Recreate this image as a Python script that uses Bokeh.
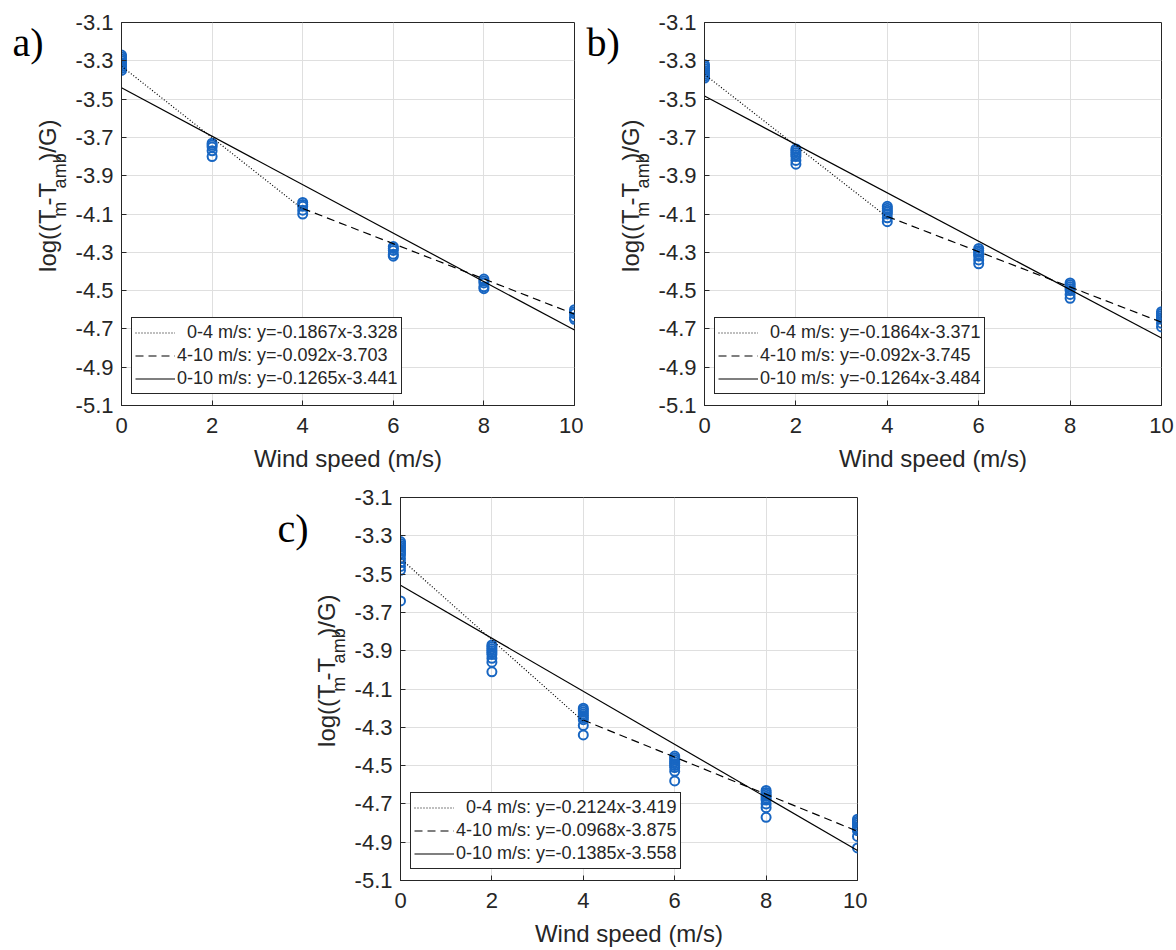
import math
from bokeh.plotting import figure
from bokeh.models import (Range1d, FixedTicker, PrintfTickFormatter,
                          Legend, LegendItem, Spacer, ColumnDataSource)
from bokeh.core.properties import value
from bokeh.layouts import column, row
from bokeh.embed import file_html
from bokeh.resources import INLINE

# ---------------- data ----------------
wind_speeds = [0, 2, 4, 6, 8, 10]

a_values = [
    [-3.27, -3.28, -3.29, -3.30, -3.31, -3.32, -3.33, -3.34, -3.35],
    [-3.73, -3.74, -3.75, -3.77, -3.80],
    [-4.04, -4.05, -4.06, -4.08, -4.10],
    [-4.27, -4.28, -4.29, -4.31, -4.32],
    [-4.44, -4.45, -4.46, -4.48, -4.49],
    [-4.60, -4.61, -4.62, -4.64, -4.65],
]
b_values = [
    [-3.32, -3.33, -3.34, -3.35, -3.36, -3.37, -3.38, -3.39],
    [-3.76, -3.77, -3.78, -3.79, -3.80, -3.82, -3.84],
    [-4.06, -4.07, -4.08, -4.09, -4.10, -4.12, -4.14],
    [-4.28, -4.29, -4.30, -4.31, -4.32, -4.34, -4.36],
    [-4.46, -4.47, -4.48, -4.49, -4.50, -4.52, -4.54],
    [-4.61, -4.62, -4.63, -4.64, -4.65, -4.67, -4.69],
]
c_values = [
    [-3.33, -3.34, -3.35, -3.36, -3.37, -3.38, -3.39, -3.40, -3.42, -3.44, -3.46, -3.48, -3.64],
    [-3.87, -3.88, -3.89, -3.90, -3.91, -3.92, -3.94, -3.96, -4.01],
    [-4.20, -4.21, -4.22, -4.23, -4.24, -4.25, -4.26, -4.29, -4.34],
    [-4.45, -4.46, -4.47, -4.48, -4.49, -4.50, -4.51, -4.53, -4.58],
    [-4.63, -4.64, -4.65, -4.66, -4.67, -4.68, -4.70, -4.72, -4.77],
    [-4.78, -4.79, -4.80, -4.81, -4.82, -4.83, -4.84, -4.87, -4.93],
]

fit_names = ["0-4 m/s", "4-10 m/s", "0-10 m/s"]
fit_ranges = [(0, 4), (4, 10), (0, 10)]
a_slopes, a_intercepts = [-0.1867, -0.092, -0.1265], [-3.328, -3.703, -3.441]
b_slopes, b_intercepts = [-0.1864, -0.092, -0.1264], [-3.371, -3.745, -3.484]
c_slopes, c_intercepts = [-0.2124, -0.0968, -0.1385], [-3.419, -3.875, -3.558]

y_ticks = [-5.1, -4.9, -4.7, -4.5, -4.3, -4.1, -3.9, -3.7, -3.5, -3.3, -3.1]
x_ticks = [0, 2, 4, 6, 8, 10]

# ---------------- style ----------------
BLUE = "#1866C2"
DARK = "#262626"
GRID = "#dfdfdf"
SANS = "Liberation Sans"
SERIF = "Liberation Serif"
ROW_H = 475
TOP = 22
FRAME_H = 383
BOTTOM = ROW_H - TOP - FRAME_H
PANEL_LEFT = 48
DASHES = ["1 2", "8 5", "solid"]

# Arial / Liberation Sans advance widths (em) for y label layout
ARIAL_W = {"l": .222, "o": .556, "g": .556, "(": .333, ")": .333, "T": .611,
           "m": .833, "-": .333, "a": .556, "b": .556, "/": .278, "G": .778}
MAIN_FS, SUB_FS = 24, 18
MID = 0.3465  # baseline -> middle of the font box, in em


def text_w(s, fs):
    return sum(ARIAL_W.get(ch, .556) for ch in s) * fs


def label_strip(width, base_x, letter, letter_cx, letter_cy):
    """Narrow axis-less figure left of a panel holding the panel letter and the
    y label.  Coordinates are pixels; y measured from the top of the row."""
    p = figure(title=None, width=width, height=ROW_H,
               x_range=Range1d(0, width), y_range=Range1d(ROW_H, 0),
               x_axis_type=None, y_axis_type=None,
               min_border=0, min_border_left=0, min_border_right=0,
               min_border_top=0, min_border_bottom=0,
               output_backend="svg", toolbar_location=None,
               background_fill_color="white", border_fill_color="white")
    p.outline_line_color = None

    pieces = [("log((T", False), ("m", True), ("-T", False), ("amb", True), (")/G)", False)]
    total = sum(text_w(s, SUB_FS if sub else MAIN_FS) for s, sub in pieces)
    centre = TOP + FRAME_H / 2
    pos = centre + total / 2          # bottom end of the label (pixels from top)
    for s, sub in pieces:
        fs = SUB_FS if sub else MAIN_FS
        w = text_w(s, fs)
        baseline = base_x + (11 if sub else 0)
        p.text(x=[baseline - MID * fs], y=[pos - w / 2], text=[s], angle=math.pi / 2,
               text_font=value(SANS), text_font_size=value(f"{fs}px"),
               text_color=DARK, text_align="center", text_baseline="middle")
        pos -= w

    p.text(x=[letter_cx], y=[letter_cy], text=[letter],
           text_font=value(SERIF), text_font_size=value("40px"), text_color="black",
           text_align="center", text_baseline="middle")
    return p


def make_panel(values, slopes, intercepts, frame_w, border_right):
    p = figure(frame_width=frame_w, frame_height=FRAME_H,
               min_border_left=PANEL_LEFT, min_border_right=border_right,
               min_border_top=TOP, min_border_bottom=BOTTOM,
               x_range=Range1d(0, 10), y_range=Range1d(-5.1, -3.1),
               output_backend="svg", toolbar_location=None,
               background_fill_color="white", border_fill_color="white")
    p.outline_line_color = DARK
    p.outline_line_width = 1
    p.outline_line_alpha = 1

    p.xaxis.ticker = FixedTicker(ticks=x_ticks)
    p.yaxis.ticker = FixedTicker(ticks=y_ticks)
    p.yaxis.formatter = PrintfTickFormatter(format="%.1f")
    for ax in (p.xaxis, p.yaxis):
        ax.axis_line_color = DARK
        ax.major_tick_line_color = DARK
        ax.major_tick_in = 5
        ax.major_tick_out = 0
        ax.minor_tick_line_color = None
        ax.major_label_text_font = SANS
        ax.major_label_text_font_size = "22px"
        ax.major_label_text_color = DARK
    p.yaxis.major_label_standoff = 8
    p.xaxis.major_label_standoff = 12
    p.xaxis.axis_label = "Wind speed (m/s)"
    p.xaxis.axis_label_text_font = SANS
    p.xaxis.axis_label_text_font_size = "24px"
    p.xaxis.axis_label_text_font_style = "normal"
    p.xaxis.axis_label_text_color = DARK
    p.xaxis.axis_label_standoff = 9

    p.grid.grid_line_color = GRID
    p.grid.grid_line_width = 1

    xs, ys = [], []
    for ws, vals in zip(wind_speeds, values):
        xs += [ws] * len(vals)
        ys += vals
    p.scatter(x="x", y="y", source=ColumnDataSource(dict(x=xs, y=ys)),
              marker="circle", size=9, fill_color=None,
              line_color=BLUE, line_width=2)

    items = []
    for k, (name, (x0, x1), s, b, dash) in enumerate(
            zip(fit_names, fit_ranges, slopes, intercepts, DASHES)):
        fx = [x0, x1]
        fy = [s * x0 + b, s * x1 + b]
        r = p.line(fx, fy, line_color="black", line_width=1.2, line_dash=dash)
        lbl = f"{name}: y={s}x{b}"
        if k == 0:
            lbl = "\u00a0\u00a0" + lbl
        items.append(LegendItem(label=lbl, renderers=[r]))

    leg = Legend(items=items, location=(10, 11), margin=0, padding=3, spacing=0,
                 glyph_width=40, glyph_height=23, label_height=23, label_standoff=2,
                 label_text_font=SANS, label_text_font_size="18px",
                 label_text_color=DARK, border_line_color=DARK, border_line_width=1,
                 border_line_alpha=1, background_fill_color="white",
                 background_fill_alpha=1)
    p.add_layout(leg, "center")
    return p


# top row: strip a (0-72) | panel a frame at 120 | strip b (582-654) | panel b frame at 702
la = label_strip(72, 55, "a)", 27.5, 24.5)
pa = make_panel(a_values, a_slopes, a_intercepts, 453, 9)
lb = label_strip(72, 55, "b)", 19.7, 24.5)
pb = make_panel(b_values, b_slopes, b_intercepts, 457, 17)
# bottom row: spacer (0-269) | strip c (269-351) | panel c frame at 399
lc = label_strip(82, 65, "c)", 23.5, 38.5)
pc = make_panel(c_values, c_slopes, c_intercepts, 457, 10)

layout = column(row(la, pa, lb, pb), row(Spacer(width=269, height=10), lc, pc))

with open("out.html", "w") as f:
    f.write(file_html(layout, INLINE))
